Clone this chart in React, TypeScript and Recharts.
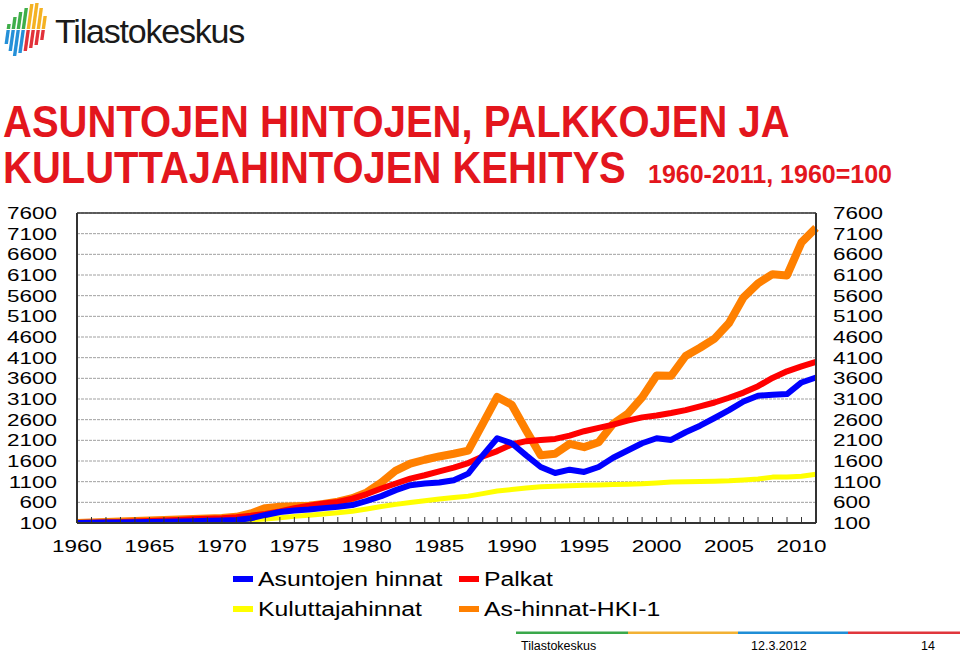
import React from "react";
import { LineChart, Line, XAxis, YAxis, CartesianGrid, ReferenceLine } from "recharts";

const years = [
  1960, 1961, 1962, 1963, 1964, 1965, 1966, 1967, 1968, 1969,
  1970, 1971, 1972, 1973, 1974, 1975, 1976, 1977, 1978, 1979,
  1980, 1981, 1982, 1983, 1984, 1985, 1986, 1987, 1988, 1989,
  1990, 1991, 1992, 1993, 1994, 1995, 1996, 1997, 1998, 1999,
  2000, 2001, 2002, 2003, 2004, 2005, 2006, 2007, 2008, 2009,
  2010, 2011,
];

const asuntojenHinnat = [
  100, 105, 110, 115, 120, 125, 130, 138, 145, 152,
  160, 172, 215, 295, 365, 400, 425, 460, 490, 535,
  635, 750, 895, 1015, 1055, 1080, 1135, 1295, 1735, 2150,
  2030, 1735, 1455, 1310, 1390, 1335, 1455, 1680, 1855, 2030,
  2150, 2110, 2295, 2455, 2640, 2830, 3040, 3180, 3200, 3220,
  3500, 3620,
];

const palkat = [
  100, 108, 117, 127, 138, 150, 162, 175, 188, 200,
  215, 240, 275, 320, 380, 460, 520, 570, 610, 690,
  800, 935, 1055, 1175, 1255, 1350, 1440, 1550, 1710, 1840,
  2000, 2080, 2110, 2135, 2215, 2320, 2400, 2480, 2575, 2655,
  2700, 2760, 2830, 2920, 3015, 3130, 3255, 3410, 3610, 3770,
  3890, 4000,
];

const kuluttajahinnat = [
  100, 102, 106, 111, 122, 127, 132, 139, 150, 154,
  159, 169, 175, 195, 225, 260, 290, 320, 350, 385,
  440, 500, 550, 595, 640, 680, 715, 750, 810, 875,
  910, 945, 975, 990, 1000, 1015, 1020, 1030, 1040, 1050,
  1070, 1090, 1100, 1105, 1110, 1120, 1140, 1165, 1210, 1210,
  1230, 1280,
];

const asHinnatHki = [
  100, 112, 124, 136, 148, 160, 172, 184, 196, 208,
  220, 250, 330, 460, 495, 505, 520, 560, 615, 700,
  840, 1080, 1370, 1535, 1630, 1710, 1775, 1850, 2500, 3150,
  2960, 2340, 1740, 1775, 2015, 1935, 2055, 2500, 2740, 3140,
  3670, 3660, 4140, 4340, 4560, 4940, 5560, 5900, 6120, 6090,
  6890, 7240,
];

const yTicks = [100, 600, 1100, 1600, 2100, 2600, 3100, 3600, 4100, 4600, 5100, 5600, 6100, 6600, 7100, 7600];
const xLabels = [1960, 1965, 1970, 1975, 1980, 1985, 1990, 1995, 2000, 2005, 2010];

const data = years.map((year, i) => ({
  year,
  asuntojen: asuntojenHinnat[i],
  palkat: palkat[i],
  kuluttaja: kuluttajahinnat[i],
  hki: asHinnatHki[i],
}));

// draw order: orange under, blue on top
const series = [
  { key: "hki", name: "As-hinnat-HKI-1", color: "#ff8000", width: 8 },
  { key: "kuluttaja", name: "Kuluttajahinnat", color: "#ffff00", width: 5 },
  { key: "palkat", name: "Palkat", color: "#ff0000", width: 6 },
  { key: "asuntojen", name: "Asuntojen hinnat", color: "#0000ff", width: 6 },
];

const legendRows = [
  ["asuntojen", "palkat"],
  ["kuluttaja", "hki"],
];

const FONT = "'Liberation Sans', Arial, sans-serif";
const TITLE_RED = "#e3161d";
const STRETCH = 1.32;

function XTick(props: any) {
  const { x, y, payload } = props;
  const yr = payload.value;
  return (
    <g>
      <line x1={x} x2={x} y1={y} y2={y - 6} stroke="#333" strokeWidth={1} />
      {xLabels.includes(yr) && (
        <text
          transform={`translate(${x},${y + 29}) scale(${STRETCH},1)`}
          textAnchor="middle"
          fontSize={17}
          fontFamily={FONT}
          fill="#000"
        >
          {yr}
        </text>
      )}
    </g>
  );
}

function LeftTick(props: any) {
  const { x, y, payload } = props;
  return (
    <text
      transform={`translate(${x - 20},${y + 6}) scale(${STRETCH},1)`}
      textAnchor="end"
      fontSize={17}
      fontFamily={FONT}
      fill="#000"
    >
      {payload.value}
    </text>
  );
}

function RightTick(props: any) {
  const { x, y, payload } = props;
  return (
    <text
      transform={`translate(${x + 17},${y + 6}) scale(${STRETCH},1)`}
      textAnchor="start"
      fontSize={17}
      fontFamily={FONT}
      fill="#000"
    >
      {payload.value}
    </text>
  );
}

function Logo() {
  const tops = [24, 17, 12, 8, 4, 3, 8, 16];
  const bottoms = [44, 51, 56, 53, 51, 48, 45, 40];
  const mid = 29;
  const sx = (y: number) => (55 - y) * 0.14;
  return (
    <g>
      {tops.map((t, i) => {
        const bx = 3 + i * 5;
        const w = 3.4;
        const b = bottoms[i];
        const top = `${bx + sx(mid)},${mid} ${bx + w + sx(mid)},${mid} ${bx + w + sx(t)},${t} ${bx + sx(t)},${t}`;
        const bot = `${bx + sx(b)},${b} ${bx + w + sx(b)},${b} ${bx + w + sx(mid + 1)},${mid + 1} ${bx + sx(mid + 1)},${mid + 1}`;
        return (
          <g key={i}>
            <polygon points={top} fill={i < 4 ? "#3fae49" : "#f4b223"} />
            <polygon points={bot} fill={i < 4 ? "#2590d8" : "#e2313a"} />
          </g>
        );
      })}
      <text x={55} y={43} fontSize={34} fontFamily={FONT} fill="#1a1a1a" letterSpacing={-1.2}>
        Tilastokeskus
      </text>
    </g>
  );
}

function Decor() {
  const byKey: Record<string, any> = {};
  series.forEach((s) => (byKey[s.key] = s));
  return (
    <svg
      width={960}
      height={653}
      style={{ position: "absolute", left: 0, top: 0, pointerEvents: "none" }}
    >
      <Logo />
      <text
        transform="translate(3,137) scale(1,1.1)"
        fontSize={40}
        fontWeight="bold"
        fontFamily={FONT}
        fill={TITLE_RED}
      >
        ASUNTOJEN HINTOJEN, PALKKOJEN JA
      </text>
      <text
        transform="translate(3,183) scale(1,1.1)"
        fontSize={40}
        fontWeight="bold"
        fontFamily={FONT}
        fill={TITLE_RED}
      >
        KULUTTAJAHINTOJEN KEHITYS
      </text>
      <text x={648} y={183} fontSize={25} fontWeight="bold" fontFamily={FONT} fill={TITLE_RED}>
        1960-2011, 1960=100
      </text>

      {legendRows.map((row, r) =>
        row.map((key, c) => {
          const s = byKey[key];
          const x0 = c === 0 ? 233 : 459;
          const base = 586 + r * 30;
          return (
            <g key={key}>
              <rect x={x0} y={base - 10} width={20} height={6} fill={s.color} />
              <text
                transform={`translate(${x0 + 25},${base}) scale(1.18,1)`}
                fontSize={21}
                fontFamily={FONT}
                fill="#000"
              >
                {s.name}
              </text>
            </g>
          );
        })
      )}

      <rect x={516} y={631.5} width={112} height={2.5} fill="#3aa84a" />
      <rect x={628} y={631.5} width={110} height={2.5} fill="#f2b134" />
      <rect x={738} y={631.5} width={110} height={2.5} fill="#1f8ed6" />
      <rect x={848} y={631.5} width={112} height={2.5} fill="#e0363c" />
      <text x={521} y={650} fontSize={12.5} fontFamily={FONT} fill="#000">
        Tilastokeskus
      </text>
      <text x={751} y={650} fontSize={12.5} fontFamily={FONT} fill="#000">
        12.3.2012
      </text>
      <text x={921} y={650} fontSize={12.5} fontFamily={FONT} fill="#000">
        14
      </text>
    </svg>
  );
}

export default function App() {
  return (
    <div
      style={{
        position: "absolute",
        left: 0,
        top: 0,
        width: 960,
        height: 653,
        background: "#fff",
        fontFamily: FONT,
        overflow: "hidden",
      }}
    >
      <div style={{ position: "absolute", left: 0, top: 0 }}>
        <LineChart
          width={960}
          height={653}
          data={data}
          margin={{ top: 213, right: 64, bottom: 100, left: 17 }}
        >
          <CartesianGrid
            yAxisId="left"
            vertical={false}
            stroke="#a0a0a0"
            strokeDasharray="3 1"
          />
          <XAxis
            dataKey="year"
            type="number"
            domain={[1960, 2011]}
            ticks={years}
            interval={0}
            tickSize={0}
            tickMargin={0}
            tick={<XTick />}
            height={30}
            axisLine={{ stroke: "#333", strokeWidth: 2 }}
            tickLine={false}
          />
          <YAxis
            yAxisId="left"
            orientation="left"
            domain={[100, 7600]}
            ticks={yTicks}
            interval={0}
            width={60}
            tickSize={0}
            tickMargin={0}
            tick={<LeftTick />}
            axisLine={{ stroke: "#333", strokeWidth: 2 }}
            tickLine={false}
            allowDataOverflow
          />
          <YAxis
            yAxisId="right"
            orientation="right"
            domain={[100, 7600]}
            ticks={yTicks}
            interval={0}
            width={80}
            tickSize={0}
            tickMargin={0}
            tick={<RightTick />}
            axisLine={{ stroke: "#333", strokeWidth: 2 }}
            tickLine={false}
            allowDataOverflow
          />
          <ReferenceLine yAxisId="left" y={7600} stroke="#333" strokeWidth={1.5} />
          {series.map((s) => (
            <Line
              key={s.key}
              yAxisId="left"
              type="linear"
              dataKey={s.key}
              name={s.name}
              stroke={s.color}
              strokeWidth={s.width}
              strokeLinejoin="round"
              dot={false}
              activeDot={false}
              isAnimationActive={false}
            />
          ))}
        </LineChart>
      </div>
      <Decor />
    </div>
  );
}
